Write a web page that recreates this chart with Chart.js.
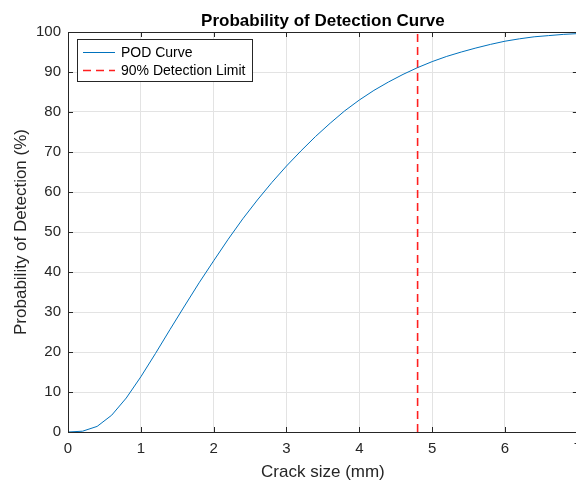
<!DOCTYPE html>
<html>
<head>
<meta charset="utf-8">
<script src="https://cdn.jsdelivr.net/npm/chart.js@4.4.1/dist/chart.umd.min.js"></script>
<style>
  html, body { margin: 0; padding: 0; background: #fff; overflow: hidden; }
  #wrap { width: 576px; height: 484px; overflow: hidden; }
  canvas { display: block; }
</style>
</head>
<body>
<div id="wrap"><canvas id="pod" width="590" height="484"></canvas></div>
<script>
// Data
const crackSize = [0, 0.2, 0.4, 0.6, 0.8, 1.0, 1.2, 1.4, 1.6, 1.8, 2.0, 2.2, 2.4, 2.6, 2.8, 3.0,
  3.2, 3.4, 3.6, 3.8, 4.0, 4.2, 4.4, 4.6, 4.8, 5.0, 5.2, 5.4, 5.6, 5.8, 6.0, 6.2, 6.4, 6.6, 6.8, 7.0];
const podValues = [0, 0.2, 1.4, 4.2, 8.5, 13.8, 19.6, 25.6, 31.5, 37.3, 42.8, 48.2, 53.3, 58.0, 62.4, 66.5,
  70.3, 73.9, 77.2, 80.3, 83.0, 85.4, 87.5, 89.4, 91.1, 92.6, 93.9, 95.0, 96.0, 96.9, 97.7, 98.3, 98.8, 99.1, 99.4, 99.6];
const limitX = [4.8, 4.8];
const limitY = [0, 100];
const seriesNames = ['POD Curve', '90% Detection Limit'];
const xTicks = [0, 1, 2, 3, 4, 5, 6, 7];
const yTicks = [0, 10, 20, 30, 40, 50, 60, 70, 80, 90, 100];

const FONT = "'Liberation Sans', Arial, Helvetica, sans-serif";
const AXIS = '#262626';

// MATLAB-like box, inward ticks, title and legend
const matlabDecor = {
  id: 'matlabDecor',
  afterDatasetsDraw(chart) {
    const ctx = chart.ctx;
    const a = chart.chartArea;
    const xs = chart.scales.x, ys = chart.scales.y;
    ctx.save();
    ctx.strokeStyle = AXIS;
    ctx.lineWidth = 1;
    ctx.setLineDash([]);
    ctx.beginPath();
    // box
    ctx.moveTo(a.left, a.top + 0.5); ctx.lineTo(a.right, a.top + 0.5);
    ctx.moveTo(a.right - 0.5, a.top); ctx.lineTo(a.right - 0.5, a.bottom);
    // inward ticks
    xTicks.forEach(v => {
      const px = Math.round(xs.getPixelForValue(v)) + 0.5;
      ctx.moveTo(px, a.bottom); ctx.lineTo(px, a.bottom - 5);
      ctx.moveTo(px, a.top); ctx.lineTo(px, a.top + 5);
    });
    yTicks.forEach(v => {
      const py = Math.round(ys.getPixelForValue(v)) + 0.5;
      ctx.moveTo(a.left, py); ctx.lineTo(a.left + 5, py);
      ctx.moveTo(a.right, py); ctx.lineTo(a.right - 5, py);
    });
    ctx.stroke();

    // title
    ctx.fillStyle = '#000';
    ctx.font = 'bold 17px ' + FONT;
    ctx.textAlign = 'center';
    ctx.textBaseline = 'alphabetic';
    ctx.fillText('Probability of Detection Curve', (a.left + a.right) / 2, 26);

    // legend
    const lx = 77.5, ly = 39.5, lw = 175, lh = 42;
    ctx.fillStyle = '#fff';
    ctx.fillRect(lx, ly, lw, lh);
    ctx.strokeStyle = AXIS;
    ctx.strokeRect(lx, ly, lw, lh);
    ctx.font = '14px ' + FONT;
    ctx.textAlign = 'left';
    ctx.textBaseline = 'middle';
    const rows = [52.5, 70.5];
    chart.data.datasets.forEach((ds, i) => {
      ctx.beginPath();
      ctx.strokeStyle = ds.borderColor;
      ctx.lineWidth = ds.borderWidth;
      ctx.setLineDash(ds.borderDash || []);
      ctx.moveTo(83, rows[i]); ctx.lineTo(115, rows[i]);
      ctx.stroke();
      ctx.setLineDash([]);
      ctx.fillStyle = '#000';
      ctx.fillText(ds.label, 121, rows[i] + 0.5);
    });
    ctx.restore();
  }
};

new Chart(document.getElementById('pod'), {
  type: 'line',
  data: {
    datasets: [
      {
        label: seriesNames[0],
        data: crackSize.map((x, i) => ({ x: x, y: podValues[i] })),
        borderColor: '#0072bd',
        borderWidth: 1,
        pointRadius: 0,
        tension: 0,
        fill: false
      },
      {
        label: seriesNames[1],
        data: limitX.map((x, i) => ({ x: x, y: limitY[i] })),
        borderColor: '#ff1f1f',
        borderWidth: 1.6,
        borderDash: [8, 5],
        pointRadius: 0,
        fill: false
      }
    ]
  },
  options: {
    responsive: false,
    animation: false,
    layout: { padding: { top: 32, right: 11, left: 0, bottom: 0 } },
    plugins: { legend: { display: false }, title: { display: false }, tooltip: { enabled: false } },
    scales: {
      x: {
        type: 'linear',
        min: 0, max: 7,
        afterFit(scale) { scale.height = 52; },
        afterBuildTicks(scale) { scale.ticks = xTicks.map(v => ({ value: v })); },
        ticks: { color: AXIS, font: { family: FONT, size: 15 }, padding: 8, maxRotation: 0 },
        grid: { color: '#e3e3e3', drawTicks: false },
        border: { display: true, color: AXIS },
        title: {
          display: true, text: 'Crack size (mm)', color: AXIS,
          font: { family: FONT, size: 17 }, padding: { top: 0, bottom: 1 }
        }
      },
      y: {
        min: 0, max: 100,
        afterFit(scale) { scale.width = 68; },
        afterBuildTicks(scale) { scale.ticks = yTicks.map(v => ({ value: v })); },
        ticks: { color: AXIS, font: { family: FONT, size: 15 }, padding: 7 },
        grid: { color: '#e3e3e3', drawTicks: false },
        border: { display: true, color: AXIS },
        title: {
          display: true, text: 'Probability of Detection (%)', color: AXIS,
          font: { family: FONT, size: 17 }, padding: { top: 11, bottom: 0 }
        }
      }
    }
  },
  plugins: [matlabDecor]
});
</script>
</body>
</html>
